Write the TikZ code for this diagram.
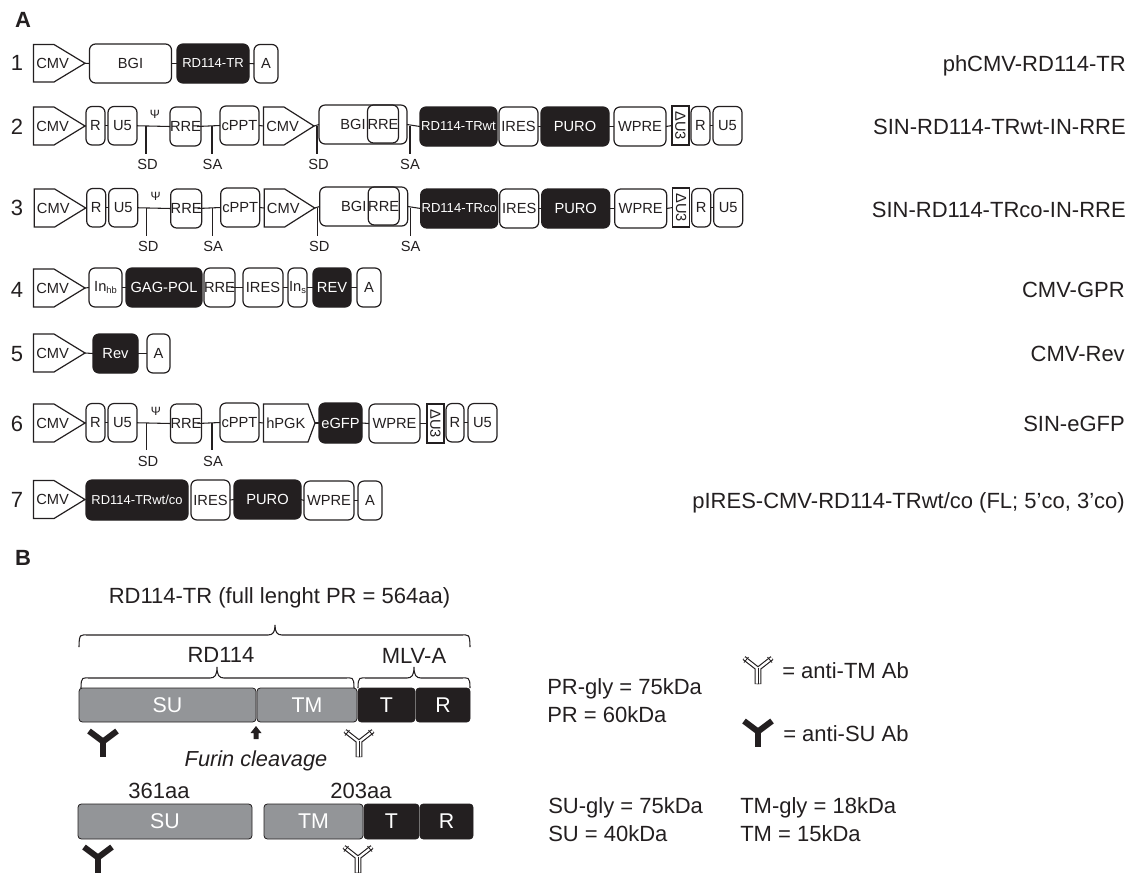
\documentclass[tikz,border=0pt]{standalone}
\usepackage{fontspec}
\setmainfont{Liberation Sans}
\definecolor{ink}{HTML}{231F20}
\definecolor{bar}{HTML}{939598}
\tikzset{
  wbox/.style={draw=ink,line width=0.9pt,rounded corners=4.5pt,fill=white,inner sep=0pt,outer sep=0pt,text=ink,font=\fontsize{11}{11}\selectfont},
  obox/.style={wbox,fill=none},
  kbox/.style={wbox,fill=ink,text=white},
  sbox/.style={wbox,rounded corners=0pt},
  gbar/.style={draw=ink,line width=0.6pt,rounded corners=2.5pt,fill=bar,inner sep=0pt,outer sep=0pt,text=white,font=\fontsize{16}{16}\selectfont},
  kbar/.style={gbar,fill=ink},
  conn/.style={draw=ink,line width=0.8pt},
  lab/.style={inner sep=0pt,text=ink,font=\fontsize{11}{11}\selectfont},
  rownum/.style={inner sep=0pt,text=ink,font=\fontsize{16.5}{16.5}\selectfont},
  panel/.style={inner sep=0pt,text=ink,font=\fontsize{16.5}{16.5}\selectfont\bfseries},
  name16/.style={inner sep=0pt,text=ink,font=\fontsize{16.5}{16.5}\selectfont},
  ptxt/.style={name16,anchor=west},
  plasmid/.style={name16,anchor=east},
  abk/.pic={
    \draw[ink,line width=4.5pt] (-14,4) -- (0,14.5);
    \draw[ink,line width=4.5pt] (14,4) -- (0,14.5);
    \draw[ink,line width=4pt] (0,12) -- (0,30);
  },
  abw/.pic={
    \draw[ink,line width=3.4pt] (-14,4) -- (-1.2,14) -- (-1.2,30);
    \draw[ink,line width=3.4pt] (14,4) -- (1.2,14) -- (1.2,30);
    \draw[white,line width=1.7pt] (-14,4) -- (-1.2,14) -- (-1.2,29.5);
    \draw[white,line width=1.7pt] (14,4) -- (1.2,14) -- (1.2,29.5);
    \draw[ink,line width=0.6pt] (-9.5,3) -- (-14,8.5);
    \draw[ink,line width=0.6pt] (9.5,3) -- (14,8.5);
    \draw[ink,line width=0.5pt] (0,14) -- (0,29.5);
  },
}
\newcommand\bx[7]{%
  \pgfmathsetmacro\bxcx{(#3+#4)/2}\pgfmathsetmacro\bxcy{(#5+#6)/2}%
  \pgfmathsetmacro\bxw{(#4-#3)*0.75}\pgfmathsetmacro\bxh{(#6-#5)*0.75}%
  \node[#1,minimum width=\bxw pt,minimum height=\bxh pt] (#2) at (\bxcx,\bxcy) {#7};}
% pentagon: name, x1, xshoulder, xtip, y1, y2, text
\newcommand\pent[7]{%
  \pgfmathsetmacro\pcy{(#5+#6)/2}%
  \draw[ink,line width=0.9pt,line join=miter] (#2,#5) -- (#3,#5) -- (#4,\pcy) -- (#3,#6) -- (#2,#6) -- cycle;
  \coordinate (#1-tip) at (#4,\pcy);
  \node[lab,anchor=west] (#1) at (#2+2.5,\pcy) {#7};}
\newcommand\crly[6]{% x1,xp,x2,yend,yflat,ypeak
  \draw[ink,line width=0.8pt] (#1,#4) .. controls (#1,#5-2) and (#1+2,#5) .. (#1+9,#5) -- (#2-7,#5)
    .. controls (#2-2,#5) and (#2,#5-3) .. (#2,#6) .. controls (#2,#5-3) and (#2+2,#5) .. (#2+7,#5)
    -- (#3-9,#5) .. controls (#3-2,#5) and (#3,#5-2) .. (#3,#4);}
\newcommand\sinrow[4]{% shift x, shift y, prefix, TR text
\begin{scope}[shift={(#1,#2)},name prefix=#3-]
  \pent{cmva}{33.5}{54}{85}{107}{145}{CMV}
  \bx{wbox}{r}{86}{105}{106.5}{145}{R}
  \bx{wbox}{u}{108}{137}{106.5}{145}{U5}
  \bx{wbox}{rre}{170}{201}{107}{146}{RRE}
  \bx{wbox}{cppt}{220}{259}{106}{145}{cPPT}
  \pent{cmvb}{263.5}{284}{314}{107}{145}{CMV}
  \bx{wbox}{bgi}{322}{404}{105}{144}{\hspace*{16pt}BGI\hspace*{31pt}\mbox{}}
  \bx{obox}{rreb}{368}{398}{105}{143}{RRE}
  \bx{kbox}{tr}{420}{497}{107}{146}{\fontsize{9.8}{9.8}\selectfont RD114-TR#4}
  \bx{wbox}{ires}{499}{538}{107}{146}{IRES}
  \bx{kbox}{puro}{541}{609}{107}{146}{PURO}
  \bx{wbox}{wpre}{614}{666}{107}{146}{WPRE}
  \bx{sbox}{du}{672}{689}{106}{145}{\rotatebox{-90}{\fontsize{11}{11}\selectfont ΔU3}}
  \bx{wbox}{r2}{691}{710}{106.5}{145}{R}
  \bx{wbox}{u2}{713}{742}{106.5}{145}{U5}
  \node[lab,font=\fontsize{9}{9}\selectfont] (psi) at (155,114) {Ψ};
  \coordinate (sd1) at (146,126); \coordinate (sd1e) at (146,154);
  \coordinate (sa1) at (212,126); \coordinate (sa1e) at (212,154);
  \coordinate (sd2) at (317,126); \coordinate (sd2e) at (317,154);
  \coordinate (sa2) at (410,126); \coordinate (sa2e) at (410,154);
  \node[lab] (sd1t) at (147.5,164) {SD};
  \node[lab] (sa1t) at (212.5,164) {SA};
  \node[lab] (sd2t) at (318.5,164) {SD};
  \node[lab] (sa2t) at (410,164) {SA};
  \draw[conn] (cmva-tip) -- (r.west);
  \draw[conn] (r.east) -- (u.west);
  \draw[conn] (u.east) -- (rre.west);
  \draw[conn] ([xshift=-3pt]rre.east) -- (cppt.west);
  \draw[conn] (cppt.east) -- (263.5,126);
  \draw[conn] (cmvb-tip) -- (bgi.west);
  \draw[conn] (bgi.east) -- (tr.west);
  \draw[conn] (ires.east) -- (puro.west);
  \draw[conn] (puro.east) -- (wpre.west);
  \draw[conn] (wpre.east) -- (du.west);
  \draw[conn] (r2.east) -- (u2.west);
  \draw[conn] (sd1) -- (sd1e);
  \draw[conn] (sa1) -- (sa1e);
  \draw[conn] (sd2) -- (sd2e);
  \draw[conn] (sa2) -- (sa2e);
\end{scope}}
\begin{document}
\begin{tikzpicture}[x=0.75pt,y=-0.75pt]
\useasboundingbox (0,0) rectangle (1131,872);
\node[panel] (pa) at (23,20) {A};
\node[panel] (pb) at (23,558) {B};
\node[rownum] (n1) at (17,63) {1};
\node[rownum] (n2) at (17,127) {2};
\node[rownum] (n3) at (17,208) {3};
\node[rownum] (n4) at (17,290) {4};
\node[rownum] (n5) at (17,354) {5};
\node[rownum] (n6) at (17,424) {6};
\node[rownum] (n7) at (17,500) {7};
% row 1
\pent{a1}{33.5}{54}{85}{44.5}{82}{CMV}
\bx{wbox}{a2}{89.5}{171.5}{44}{83}{BGI}
\bx{kbox}{a3}{177}{249}{44}{83}{\fontsize{9.8}{9.8}\selectfont RD114-TR}
\bx{wbox}{a4}{254}{278}{44.5}{83}{A}
\draw[conn] (a1-tip) -- (a2.west);
\draw[conn] (a2.east) -- (a3.west);
\draw[conn] (a3.east) -- (a4.west);
% rows 2, 3
\sinrow{0}{0}{s2}{wt}
\sinrow{0.7}{82}{s3}{co}
% row 4
\pent{d1}{33.5}{54}{85}{269}{307}{CMV}
\bx{wbox}{d2}{89}{122}{268}{307}{In\raisebox{-2pt}{\fontsize{7}{7}\selectfont hb}}
\bx{kbox}{d3}{126}{202}{268}{307}{GAG-POL}
\bx{wbox}{d4}{204}{235}{268}{307}{RRE}
\bx{wbox}{d5}{243}{283}{268}{307}{IRES}
\bx{wbox}{d6}{288}{307}{268}{307}{In\raisebox{-2pt}{\fontsize{7}{7}\selectfont s}}
\bx{kbox}{d7}{313}{351}{268}{307}{REV}
\bx{wbox}{d8}{357}{381}{268}{307}{A}
\draw[conn] (d1-tip) -- (d2.west);
\draw[conn] (d2.east) -- (d3.west);
\draw[conn] ([xshift=-3pt]d4.east) -- (d5.west);
\draw[conn] (d5.east) -- (d6.west);
\draw[conn] (d6.east) -- (d7.west);
\draw[conn] (d7.east) -- (d8.west);
% row 5
\pent{e1}{33.5}{54}{85}{334}{372}{CMV}
\bx{kbox}{e2}{93}{138}{334}{373}{Rev}
\bx{wbox}{e3}{147}{170}{334}{373}{A}
\draw[conn] (e1-tip) -- (e2.west);
\draw[conn] (e2.east) -- (e3.west);
% row 6
\pent{f1}{33.5}{54}{85}{404}{442}{CMV}
\bx{wbox}{f2}{86}{105}{403.5}{442}{R}
\bx{wbox}{f3}{108}{137}{403.5}{442}{U5}
\bx{wbox}{f4}{171}{201}{404}{443}{RRE}
\bx{wbox}{f5}{220}{259}{403}{442}{cPPT}
\pent{f6}{263.5}{308}{315}{404}{442}{hPGK}
\bx{kbox}{f7}{319}{362}{403}{443}{eGFP}
\bx{wbox}{f8}{369}{420}{404}{443}{WPRE}
\bx{sbox}{f9}{427}{444}{404}{443}{\rotatebox{-90}{\fontsize{11}{11}\selectfont ΔU3}}
\bx{wbox}{f10}{446}{464}{403.5}{442}{R}
\bx{wbox}{f11}{468}{497}{403.5}{442}{U5}
\node[lab,font=\fontsize{9}{9}\selectfont] (f-psi) at (156,411) {Ψ};
\coordinate (f-sd) at (146.5,423); \coordinate (f-sde) at (146.5,450);
\coordinate (f-sa) at (212,423); \coordinate (f-sae) at (212,450);
\node[lab] (f-sdt) at (148,461) {SD};
\node[lab] (f-sat) at (213,461) {SA};
\draw[conn] (f1-tip) -- (f2.west);
\draw[conn] (f2.east) -- (f3.west);
\draw[conn] (f3.east) -- (f4.west);
\draw[conn] ([xshift=-3pt]f4.east) -- (f5.west);
\draw[conn] (f5.east) -- (263.5,423);
\draw[conn] (f6-tip) -- (f7.west);
\draw[conn] (f7.east) -- (f8.west);
\draw[conn] (f8.east) -- (f9.west);
\draw[conn] (f10.east) -- (f11.west);
\draw[conn] (f-sd) -- (f-sde);
\draw[conn] (f-sa) -- (f-sae);
% row 7
\pent{g1}{33.5}{54}{85}{480.5}{518.5}{CMV}
\bx{kbox}{g2}{86}{188}{480}{520}{\fontsize{9.7}{9.7}\selectfont RD114-TRwt/co}
\bx{wbox}{g3}{191}{230}{480}{520}{IRES}
\bx{kbox}{g4}{234}{301}{480}{519}{PURO}
\bx{wbox}{g5}{304}{354}{481}{520}{WPRE}
\bx{wbox}{g6}{358}{382}{481}{520}{A}
\draw[conn] (g3.east) -- (g4.west);
\draw[conn] (g4.east) -- (g5.west);
\draw[conn] (g5.east) -- (g6.west);
% plasmid names
\node[plasmid] (l1) at (1126,66) {phCMV-RD114-TR};
\node[plasmid] (l2) at (1126,127) {SIN-RD114-TRwt-IN-RRE};
\node[plasmid] (l3) at (1126,210) {SIN-RD114-TRco-IN-RRE};
\node[plasmid] (l4) at (1125,290) {CMV-GPR};
\node[plasmid] (l5) at (1125,354) {CMV-Rev};
\node[plasmid] (l6) at (1125,424) {SIN-eGFP};
\node[plasmid] (l7) at (1125,503) {pIRES-CMV-RD114-TRwt/co (FL; 5’co, 3’co)};
% panel B
\node[name16] (title) at (279.5,598) {RD114-TR (full lenght PR = 564aa)};
\crly{79}{275}{470}{647}{635}{625}
\crly{81}{217}{354}{688}{678}{667}
\crly{358}{414}{470}{688}{678}{667}
\node[name16] (rd) at (221,655) {RD114};
\node[name16] (mlv) at (414,656) {MLV-A};
\bx{gbar}{su1}{79}{256}{688}{722}{SU}
\bx{gbar}{tm1}{257}{357}{688}{722}{TM}
\bx{kbar}{t1}{358}{415}{688}{722}{T}
\bx{kbar}{r1}{416}{470}{688}{722}{R}
\pic at (103,727) {abk};
\pic at (359,727) {abw};
\fill[ink] (256,726) -- (261.5,733) -- (258.5,733) -- (258.5,739) -- (253.5,739) -- (253.5,733) -- (250.5,733) -- cycle;
\node[name16,font=\fontsize{16.3}{16.3}\selectfont\itshape] (furin) at (256,761) {Furin cleavage};
\node[name16] (aa1) at (159,791) {361aa};
\node[name16] (aa2) at (361,791) {203aa};
\bx{gbar}{su2}{78}{252}{804}{839}{SU}
\bx{gbar}{tm2}{264}{363}{804}{839}{TM}
\bx{kbar}{t2}{364}{419}{804}{839}{T}
\bx{kbar}{r2b}{420}{473}{804}{839}{R}
\pic at (98,843) {abk};
\pic at (358,843) {abw};
\node[ptxt] (pr1) at (547,689) {PR-gly = 75kDa};
\node[ptxt] (pr2) at (547,715) {PR = 60kDa};
\pic at (758,654) {abw};
\node[ptxt] (anti1) at (782,671) {= anti-TM Ab};
\pic at (758,717) {abk};
\node[ptxt] (anti2) at (783,734) {= anti-SU Ab};
\node[ptxt] (su3) at (548,808) {SU-gly = 75kDa};
\node[ptxt] (su4) at (548,834) {SU = 40kDa};
\node[ptxt] (tm3) at (740,808) {TM-gly = 18kDa};
\node[ptxt] (tm4) at (740,834) {TM = 15kDa};
\end{tikzpicture}
\end{document}
